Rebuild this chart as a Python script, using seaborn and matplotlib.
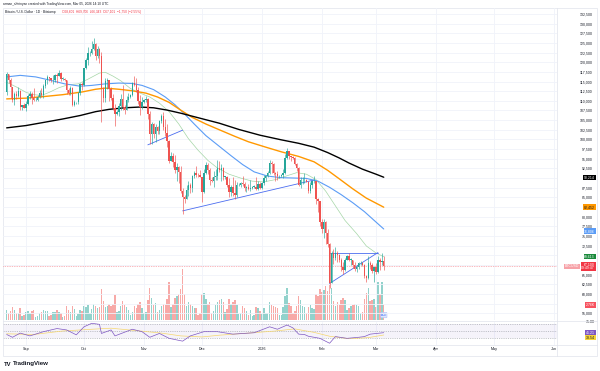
import matplotlib
matplotlib.use("Agg")
import matplotlib.pyplot as plt
from matplotlib.lines import Line2D
from matplotlib.patches import Rectangle
import pandas as pd
import seaborn as sns

# ─── 1. Daily candles BTC/USD Bitstamp (prices in thousand USD) ───────
day_first, day_last = "2025-08-22", "2026-03-05"
first_open = 112.4
closes = [
    116.9, 115.4, 113.5, 110.1, 111.8, 111.2, 112.6, 108.4, 108.8, 108.2,
    109.2, 111.2, 111.7, 110.7, 110.2, 110.2, 111.1, 112.1, 111.5, 113.9,
    115.5, 116.1, 115.9, 115.3, 115.4, 116.8, 116.5, 117.1, 115.7, 115.7,
    115.3, 112.7, 112.0, 113.3, 109.0, 109.7, 109.7, 112.1, 114.4, 114.1,
    118.6, 120.6, 122.3, 122.4, 123.5, 124.8, 121.5, 123.3, 121.7, 113.2,
    110.7, 115.2, 115.3, 113.1, 110.8, 108.2, 106.5, 107.2, 108.7, 110.6,
    108.5, 107.6, 110.1, 111.0, 111.6, 114.5, 114.1, 112.9, 110.0, 108.3,
    109.6,
    110.1, 110.6, 106.5, 101.5, 103.9, 101.3, 103.3, 102.3, 104.7, 106.0,
    103.1, 101.6, 99.7, 94.5, 95.6, 94.2, 92.2, 92.9, 91.5, 86.6,
    85.1, 84.7, 86.8, 88.3, 87.3, 90.5, 91.3, 90.9, 90.8, 90.4,
    86.3, 91.3, 93.5, 92.1, 89.4, 89.3, 90.4, 90.6, 92.7, 92.0,
    92.5, 90.3, 90.3, 88.2, 86.4, 87.8, 86.2, 85.5, 88.1, 88.3,
    88.6, 88.5, 87.4, 87.6, 87.2, 87.3, 87.8, 87.8, 87.1, 88.4,
    87.5,
    88.7, 89.9, 90.6, 91.4, 93.8, 93.7, 91.3, 91.0, 90.5, 90.5,
    90.8, 91.2, 95.3, 97.0, 95.6, 95.5, 95.1, 93.6, 92.6, 88.3,
    89.4, 89.5, 89.5, 89.1, 86.6, 88.3, 89.2, 89.2, 84.6, 84.1,
    78.6,
    76.9, 78.7, 75.7, 73.0, 62.9, 70.5, 69.3, 70.5, 70.1, 68.8,
    67.0, 66.2, 68.8, 69.8, 68.8, 68.8, 67.5, 66.4, 66.9, 67.9,
    68.0, 67.6, 64.6, 64.0, 68.0, 67.5, 65.9, 66.9,
    65.7, 68.8, 68.3, 68.6, 67.1,
]
highs = [
    117.4, 117.0, 115.8, 113.6, 112.4, 112.6, 113.5, 112.7, 108.9, 109.5,
    109.9, 111.8, 112.6, 112.2, 113.4, 110.9, 111.4, 112.9, 113.2, 114.3,
    115.5, 116.6, 116.3, 116.0, 116.8, 117.0, 117.3, 117.9, 117.5, 116.2,
    115.9, 115.4, 113.3, 113.9, 113.5, 110.3, 109.8, 112.4, 114.5, 114.8,
    118.6, 121.0, 123.9, 122.9, 125.6, 126.2, 125.0, 124.2, 123.7, 122.6,
    113.6, 115.9, 116.0, 115.4, 113.6, 111.9, 109.3, 107.5, 109.5, 111.7,
    114.0, 109.0, 111.2, 112.0, 111.9, 115.0, 116.4, 116.0, 113.6, 111.6,
    111.1,
    110.6, 111.2, 110.8, 107.3, 104.5, 104.2, 104.0, 103.4, 105.0, 106.7,
    107.0, 105.3, 104.0, 99.9, 96.8, 96.6, 96.0, 93.8, 93.0, 93.1,
    87.5, 85.6, 88.1, 89.2, 88.7, 90.7, 91.9, 93.1, 91.2, 92.0,
    90.4, 92.3, 94.1, 94.0, 92.7, 90.3, 91.7, 92.3, 94.6, 94.5,
    93.6, 92.8, 90.6, 90.6, 90.0, 88.2, 90.3, 89.5, 89.0, 88.6,
    89.1, 90.6, 88.9, 88.0, 88.5, 89.4, 88.0, 88.3, 90.3, 89.3,
    89.0,
    88.9, 90.9, 90.7, 91.8, 94.6, 94.4, 94.0, 91.5, 91.8, 90.8,
    91.1, 92.4, 96.3, 97.9, 97.1, 95.8, 95.6, 95.5, 93.9, 92.8,
    90.4, 90.3, 91.2, 89.8, 89.2, 88.9, 89.5, 90.5, 89.3, 84.9,
    84.1,
    79.3, 79.3, 79.0, 76.9, 73.2, 71.0, 71.7, 72.2, 71.0, 70.4,
    69.3, 68.3, 69.4, 70.0, 70.7, 69.2, 68.9, 68.3, 67.4, 68.3,
    68.6, 68.2, 67.8, 64.9, 69.9, 68.5, 68.0, 67.3,
    68.0, 69.8, 69.3, 70.5, 69.7,
]
lows = [
    111.6, 114.6, 110.7, 109.7, 108.8, 110.4, 110.9, 107.5, 107.5, 108.1,
    107.3, 108.8, 110.5, 109.3, 109.9, 109.9, 110.0, 110.7, 110.9, 110.8,
    113.4, 114.3, 115.2, 114.8, 114.4, 114.9, 114.7, 116.4, 115.1, 115.4,
    115.2, 111.9, 111.5, 111.6, 108.6, 108.7, 109.2, 109.2, 111.6, 112.7,
    113.9, 118.2, 119.3, 121.6, 122.2, 123.1, 120.6, 121.1, 119.7, 104.6,
    109.7, 109.8, 113.0, 109.9, 110.1, 107.5, 103.6, 106.4, 106.1, 107.5,
    107.5, 106.7, 107.5, 109.7, 110.8, 111.3, 113.9, 112.3, 109.3, 106.3,
    108.0,
    109.4, 109.7, 105.3, 98.9, 98.9, 100.3, 99.3, 101.4, 101.4, 104.3,
    102.5, 100.8, 98.0, 94.0, 94.4, 92.9, 91.4, 89.3, 88.6, 86.1,
    80.6, 83.5, 84.6, 85.3, 86.1, 86.3, 90.1, 90.2, 90.3, 90.3,
    83.9, 86.2, 91.1, 91.0, 88.1, 88.9, 87.7, 89.6, 89.5, 91.6,
    89.3, 89.5, 89.8, 87.6, 85.2, 85.3, 85.4, 84.5, 85.1, 88.0,
    87.6, 88.0, 86.6, 86.4, 86.9, 86.7, 87.2, 87.4, 86.9, 86.8,
    87.1,
    87.2, 88.3, 89.3, 90.4, 91.1, 91.3, 90.9, 89.3, 89.6, 90.1,
    90.3, 90.0, 91.1, 94.9, 95.0, 94.3, 94.9, 93.5, 91.9, 87.9,
    87.3, 88.5, 88.6, 88.9, 86.2, 86.1, 87.3, 88.8, 83.4, 81.1,
    77.5,
    75.7, 74.6, 72.9, 72.1, 61.5, 62.8, 67.8, 68.8, 68.3, 68.3,
    65.8, 65.1, 65.9, 68.7, 68.4, 67.5, 66.7, 65.9, 65.7, 66.5,
    67.6, 67.1, 64.2, 63.0, 63.9, 66.4, 65.5, 63.2,
    65.2, 65.5, 66.2, 67.4, 66.3,
]
# volume in thousand BTC
volumes = [
    1.8, 1.2, 1.6, 2.4, 1.9, 1.3, 1.2, 2.2, 0.8, 0.9,
    1.5, 1.7, 1.2, 1.6, 1.9, 0.6, 0.7, 1.3, 1.4, 1.8,
    1.6, 1.7, 0.8, 0.9, 1.5, 1.4, 1.9, 1.5, 1.3, 0.6,
    0.8, 2.5, 1.8, 1.4, 2.6, 2.0, 0.7, 1.1, 1.9, 1.6,
    2.6, 2.4, 2.8, 1.3, 2.0, 2.9, 2.6, 2.1, 2.3, 5.6,
    3.4, 2.4, 2.6, 2.9, 2.6, 3.0, 4.6, 1.5, 1.6, 2.5,
    3.4, 2.8, 2.4, 1.9, 1.0, 1.4, 2.6, 2.2, 2.9, 3.2,
    2.1,
    1.2, 1.5, 3.6, 5.8, 4.1, 2.8, 3.1, 1.5, 1.8, 2.6,
    2.9, 2.8, 3.9, 6.9, 2.4, 2.9, 4.0, 4.4, 4.8, 5.6,
    9.3, 4.7, 2.6, 3.3, 2.9, 2.6, 2.1, 2.2, 1.0, 1.2,
    4.8, 4.9, 3.9, 2.9, 3.2, 1.2, 1.6, 2.8, 3.3, 3.6,
    3.9, 3.2, 1.4, 2.0, 3.8, 2.9, 3.3, 3.6, 2.8, 1.1,
    1.3, 2.5, 2.2, 1.6, 1.0, 1.8, 0.8, 0.9, 2.4, 2.1,
    1.6,
    1.1, 2.2, 1.3, 1.2, 3.2, 2.7, 2.6, 2.3, 2.1, 0.9,
    1.0, 2.4, 4.3, 5.9, 3.1, 2.5, 1.2, 1.6, 2.6, 4.4,
    3.7, 2.6, 2.4, 1.2, 2.3, 2.7, 2.2, 2.0, 4.7, 4.4,
    5.6,
    5.1, 5.5, 6.2, 5.3, 7.4, 5.9, 3.5, 2.6, 3.3, 2.8,
    3.6, 4.0, 3.6, 1.9, 2.2, 2.5, 2.8, 3.0, 2.7, 2.6,
    1.3, 1.4, 3.8, 5.0, 5.9, 3.4, 3.6, 3.9,
    2.4, 6.9, 4.8, 7.0, 2.76,
]

# ─── 2. Moving averages ───────────────────────────────────────────────
ma200_dates = ["2025-08-22", "2025-09-01", "2025-09-10", "2025-09-20", "2025-09-29",
               "2025-10-07", "2025-10-14", "2025-10-22", "2025-10-30", "2025-11-06",
               "2025-11-13", "2025-11-20", "2025-11-30", "2025-12-10", "2025-12-20",
               "2025-12-31", "2026-01-11", "2026-01-20", "2026-01-28", "2026-02-04",
               "2026-02-10", "2026-02-15", "2026-02-22", "2026-03-01", "2026-03-05"]
ma200_vals = [103.0, 103.6, 104.4, 105.3, 106.2, 107.2, 107.8, 108.2, 108.4, 108.2,
              107.6, 106.8, 105.5, 104.2, 102.6, 101.1, 99.9, 99.0, 98.0, 96.6,
              95.2, 93.9, 92.3, 91.0, 90.214]
ma100_dates = ["2025-08-22", "2025-09-01", "2025-09-10", "2025-09-20", "2025-09-30",
               "2025-10-07", "2025-10-12", "2025-10-19", "2025-10-26", "2025-11-02",
               "2025-11-08", "2025-11-14", "2025-11-20", "2025-11-26", "2025-12-03",
               "2025-12-10", "2025-12-18", "2025-12-25", "2026-01-03", "2026-01-11",
               "2026-01-20", "2026-01-28", "2026-02-04", "2026-02-10", "2026-02-17",
               "2026-02-24", "2026-03-05"]
ma100_vals = [110.5, 110.7, 111.1, 111.6, 112.3, 113.0, 113.3, 113.0, 112.6, 112.0,
              111.0, 109.6, 107.6, 105.7, 104.0, 102.5, 100.8, 99.4, 98.0, 96.8,
              95.6, 94.2, 92.0, 89.8, 87.2, 84.8, 82.452]
ma50_dates = ["2025-08-22", "2025-08-29", "2025-09-06", "2025-09-13", "2025-09-21",
              "2025-09-29", "2025-10-05", "2025-10-12", "2025-10-19", "2025-10-26",
              "2025-10-31", "2025-11-06", "2025-11-12", "2025-11-17", "2025-11-22",
              "2025-11-27", "2025-12-03", "2025-12-10", "2025-12-16", "2025-12-22",
              "2025-12-28", "2026-01-04", "2026-01-11", "2026-01-18", "2026-01-24",
              "2026-01-30", "2026-02-05", "2026-02-11", "2026-02-17", "2026-02-23",
              "2026-03-01", "2026-03-05"]
ma50_vals = [116.2, 116.6, 116.2, 115.4, 114.4, 113.8, 114.0, 114.4, 114.6, 114.5,
             114.0, 112.9, 111.0, 109.0, 106.6, 104.0, 101.0, 98.2, 95.8, 93.5,
             91.6, 90.5, 90.1, 90.0, 89.9, 89.2, 87.6, 85.7, 83.6, 81.3,
             78.6, 76.806]
ma20_dates = ["2025-08-22", "2025-08-27", "2025-09-01", "2025-09-05", "2025-09-09",
              "2025-09-13", "2025-09-18", "2025-09-23", "2025-09-28", "2025-10-03",
              "2025-10-09", "2025-10-12", "2025-10-16", "2025-10-20", "2025-10-25",
              "2025-10-30", "2025-11-04", "2025-11-09", "2025-11-14", "2025-11-19",
              "2025-11-24", "2025-11-29", "2025-12-04", "2025-12-09", "2025-12-15",
              "2025-12-21", "2025-12-27", "2026-01-02", "2026-01-08", "2026-01-14",
              "2026-01-19", "2026-01-24", "2026-01-29", "2026-02-03", "2026-02-08",
              "2026-02-13", "2026-02-19", "2026-02-24", "2026-03-01", "2026-03-05"]
ma20_vals = [114.8, 113.6, 112.2, 111.6, 111.4, 112.2, 113.4, 114.2, 114.4, 115.6,
             117.2, 117.4, 116.4, 115.2, 113.2, 112.0, 111.0, 109.4, 107.2, 104.0,
             100.2, 97.2, 94.6, 92.6, 91.0, 90.0, 89.2, 89.0, 89.6, 90.6,
             91.4, 91.0, 89.6, 86.6, 82.8, 79.0, 75.6, 72.4, 70.6, 69.613]

# ─── 3. Drawn trend lines ─────────────────────────────────────────────
trend_from_dates = ["2025-11-03", "2025-11-21", "2026-02-05", "2026-02-05"]
trend_from_vals = [98.6, 81.5, 70.7, 62.7]
trend_to_dates = ["2025-11-21", "2026-01-28", "2026-03-02", "2026-03-02"]
trend_to_vals = [102.4, 89.5, 70.7, 70.7]

# ─── 4. RSI pane ──────────────────────────────────────────────────────
rsi_dates = ["2025-08-22", "2025-08-25", "2025-08-29", "2025-09-03", "2025-09-10",
             "2025-09-17", "2025-09-22", "2025-09-27", "2025-10-01", "2025-10-05",
             "2025-10-09", "2025-10-10", "2025-10-15", "2025-10-17", "2025-10-26",
             "2025-10-31", "2025-11-04", "2025-11-09", "2025-11-14", "2025-11-21",
             "2025-11-25", "2025-12-02", "2025-12-09", "2025-12-17", "2025-12-28",
             "2026-01-05", "2026-01-09", "2026-01-14", "2026-01-17", "2026-01-20",
             "2026-01-23", "2026-01-25", "2026-01-31", "2026-02-05", "2026-02-08",
             "2026-02-14", "2026-02-20", "2026-02-23", "2026-02-26", "2026-03-05"]
rsi_vals = [40, 32, 44, 36, 48, 57, 53, 39, 62, 72,
            69, 43, 53, 36, 55, 48, 32, 43, 29, 21,
            36, 48, 48, 41, 45, 62, 55, 67, 59, 41,
            40, 35, 29, 15, 34, 29, 32, 34, 41, 45.21]
rsi_ma_dates = ["2025-08-22", "2025-09-05", "2025-09-20", "2025-10-05", "2025-10-15",
                "2025-10-30", "2025-11-10", "2025-11-20", "2025-12-01", "2025-12-10",
                "2025-12-25", "2026-01-08", "2026-01-18", "2026-01-28", "2026-02-05",
                "2026-02-15", "2026-02-25", "2026-03-05"]
rsi_ma_vals = [42, 40, 50, 55, 58, 50, 44, 36, 33, 38, 44, 50, 56, 46, 35, 28, 31, 38.54]

month_labels = ["Sep", "Oct", "Nov", "Dec", "2026", "Feb", "Mar", "Apr", "May", "Jun"]

# ─── 5. Frame ─────────────────────────────────────────────────────────
UP, DOWN = "#26a69a", "#ef5350"
UP_VOL, DOWN_VOL = "#92d2cc", "#f7a9a7"
GRID = "#f0f3fa"
TEXT = "#131722"

sns.set_theme(style="white")
plt.rcParams["font.family"] = ["Liberation Sans", "DejaVu Sans"]

W, H = 600, 371
fig = plt.figure(figsize=(W / 100, H / 100), dpi=100)
fig.patch.set_facecolor("white")


def px_box(x0, y0, x1, y1):
    return [x0 / W, 1 - y1 / H, (x1 - x0) / W, (y1 - y0) / H]


ax = fig.add_axes(px_box(3, 8, 557, 320))
axv = ax.twinx()
axr = fig.add_axes(px_box(3, 322, 557, 344.5))
ax.set_zorder(axv.get_zorder() + 1)
ax.patch.set_visible(False)
axv.set_axis_off()

df = pd.DataFrame({"date": pd.date_range(day_first, day_last, freq="D"),
                   "close": closes, "high": highs, "low": lows, "volume": volumes})
df["open"] = [first_open] + closes[:-1]
df["up"] = df["close"] >= df["open"]
body_col = df["up"].map({True: UP, False: DOWN})
vol_col = df["up"].map({True: UP_VOL, False: DOWN_VOL})

sep1 = pd.Timestamp("2025-09-01")
x_left = sep1 - pd.Timedelta(days=11.9)
x_right = sep1 + pd.Timedelta(days=274.6)
months = pd.date_range("2025-09-01", "2026-06-01", freq="MS")

# grid
grid_levels = [55 + 2.5 * i for i in range(32)]
for lvl in grid_levels:
    ax.axhline(lvl, color=GRID, lw=0.6, zorder=0)
for m in months:
    ax.axvline(m, color=GRID, lw=0.6, zorder=0)
    axr.axvline(m, color=GRID, lw=0.6, zorder=0)

# volume
axv.bar(df["date"], df["volume"], width=0.75, color=vol_col, linewidth=0)
axv.set_ylim(0, 56.9)
axv.set_xlim(x_left, x_right)

# moving averages
sns.lineplot(x=pd.to_datetime(ma20_dates), y=ma20_vals, ax=ax, color="#a5d6a7", lw=0.5, zorder=3)
sns.lineplot(x=pd.to_datetime(ma50_dates), y=ma50_vals, ax=ax, color="#5b9cf6", lw=0.8, zorder=3)
sns.lineplot(x=pd.to_datetime(ma100_dates), y=ma100_vals, ax=ax, color="#ff9800", lw=1.0, zorder=3)
sns.lineplot(x=pd.to_datetime(ma200_dates), y=ma200_vals, ax=ax, color="black", lw=1.0, zorder=3)

# trend lines
for d0, v0, d1, v1 in zip(trend_from_dates, trend_from_vals, trend_to_dates, trend_to_vals):
    ax.plot(pd.to_datetime([d0, d1]), [v0, v1], color="#4a6cf0", lw=0.6, zorder=4)

# candles
ax.vlines(df["date"], df["low"], df["high"], colors=body_col, lw=0.45, zorder=5)
body_low = df[["open", "close"]].min(axis=1)
body_h = (df["close"] - df["open"]).abs().clip(lower=0.12)
ax.bar(df["date"], body_h, bottom=body_low, width=0.72, color=body_col, linewidth=0, zorder=6)

# last price line
ax.axhline(closes[-1], color="#f23645", lw=0.5, ls=(0, (1, 1.5)), alpha=0.7, zorder=2)

ax.set_xlim(x_left, x_right)
ax.set_ylim(53.23, 134.05)
ax.set_xticks([])
ax.set_xlabel("")
ax.set_ylabel("")
for s in ax.spines.values():
    s.set_visible(False)

hidden = {90.0, 82.5, 70.0, 67.5, 57.5}
shown = [lvl for lvl in grid_levels if round(lvl, 1) not in hidden]
ax.yaxis.tick_right()
ax.set_yticks(shown)
ax.set_yticklabels([f"{v * 1000:,.0f}" for v in shown])
ax.tick_params(axis="y", length=0, pad=25.9, labelsize=2.5, labelcolor=TEXT)
for t in ax.get_yticklabels():
    t.set_ha("right")

TAG_X = (595 - 3) / 554


def scale_tag(axis, value, text, face, fg="white", x=TAG_X):
    axis.text(x, value, text, transform=axis.get_yaxis_transform(), ha="right", va="center",
              fontsize=2.5, color=fg, linespacing=1.0, clip_on=False, zorder=20,
              bbox=dict(boxstyle="square,pad=0.2", fc=face, ec="none"))


scale_tag(ax, ma200_vals[-1], f"{ma200_vals[-1] * 1000:,.0f}", "black")
scale_tag(ax, ma100_vals[-1], f"{ma100_vals[-1] * 1000:,.0f}", "#ff9800", fg=TEXT)
# blue tag nudged below the 77,500 tick label so the two stay readable
scale_tag(ax, ma50_vals[-1] - 0.55, f"{ma50_vals[-1] * 1000:,.0f}", "#5b9cf6")
scale_tag(ax, ma20_vals[-1], f"{ma20_vals[-1] * 1000:,.0f}", "#1b8a3c")
scale_tag(ax, closes[-1], f"{closes[-1] * 1000:,.0f}\n09:49:47", "#f23645")
scale_tag(ax, closes[-1], "BTCUSD", "#f7a1a7", x=(579 - 3) / 554)
scale_tag(axv, volumes[-1], f"{volumes[-1]:.2f}K", "#f7525f")
axv.text(df["date"].iloc[-1], 0.9, "ACE", ha="center", va="center", fontsize=1.8,
         color="#2962ff", zorder=20,
         bbox=dict(boxstyle="round,pad=0.3", fc="#dfe6fb", ec="#9fb3f5", lw=0.3))

# RSI pane
axr.axhspan(30, 70, color="#7e57c2", alpha=0.07, lw=0)
for lvl in (70, 50, 30):
    axr.axhline(lvl, color="#9598a1", lw=0.4, ls=(0, (2, 2)))
sns.lineplot(x=pd.to_datetime(rsi_ma_dates), y=rsi_ma_vals, ax=axr, color="#f5d76e", lw=0.5)
sns.lineplot(x=pd.to_datetime(rsi_dates), y=rsi_vals, ax=axr, color="#7e57c2", lw=0.5)
axr.set_xlim(x_left, x_right)
axr.set_ylim(11.4, 75.7)
axr.set_yticks([])
axr.set_xlabel("")
axr.set_ylabel("")
axr.set_xticks(months)
axr.set_xticklabels(month_labels, fontsize=2.7, color=TEXT)
axr.tick_params(axis="x", length=0, pad=2)
for s in axr.spines.values():
    s.set_visible(False)
axr.text(TAG_X, 75, "75.00", transform=axr.get_yaxis_transform(), ha="right", va="center",
         fontsize=2.5, color=TEXT, clip_on=False)
scale_tag(axr, rsi_vals[-1], f"{rsi_vals[-1]:.2f}", "#7e57c2")
scale_tag(axr, 31, f"{rsi_ma_vals[-1]:.2f}", "#f5d33a", fg=TEXT)

# borders
border = "#e0e3eb"
fig.add_artist(Rectangle((3 / W, 1 - 356 / H), 594 / W, 348 / H, transform=fig.transFigure,
                         fill=False, ec=border, lw=0.5))
fig.add_artist(Line2D([3 / W, 597 / W], [1 - 321 / H] * 2, color=border, lw=0.5))
fig.add_artist(Line2D([3 / W, 597 / W], [1 - 344.5 / H] * 2, color=border, lw=0.5))
fig.add_artist(Line2D([557 / W] * 2, [1 - 356 / H, 1 - 8 / H], color=border, lw=0.5))

# header
fig.text(3 / W, 1 - 4 / H, "arman_shirinyan created with TradingView.com, Mar 05, 2026 14:10 UTC",
         fontsize=2.3, color=TEXT, va="center")
fig.text(5 / W, 1 - 12 / H, "Bitcoin / U.S. Dollar · 1D · Bitstamp", fontsize=2.3, color=TEXT,
         va="center")
fig.text(62 / W, 1 - 12 / H, "O68,601  H69,706  L66,343  C67,101  \u22121,750 (\u22122.55%)",
         fontsize=2.3, color="#f23645", va="center")

# logo
fig.text(4 / W, 1 - 364 / H, "TV", fontsize=4.2, fontweight="bold", color=TEXT, va="center")
fig.text(13 / W, 1 - 364 / H, "TradingView", fontsize=4.4, fontweight="bold", color=TEXT,
         va="center")

fig.savefig("out.png", dpi=100)
